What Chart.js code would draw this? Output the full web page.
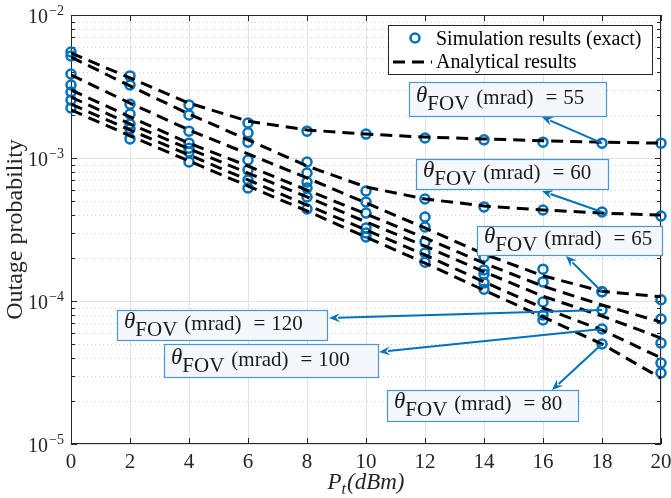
<!DOCTYPE html>
<html>
<head>
<meta charset="utf-8">
<script src="https://cdn.jsdelivr.net/npm/chart.js@4.4.1/dist/chart.umd.min.js"></script>
<style>
  html, body { margin:0; padding:0; background:#fff; }
  canvas { display:block; }
</style>
</head>
<body>
<canvas id="chart" width="671" height="498"></canvas>
<script>
// transmit power P_t (dBm)
const pt = [0, 2, 4, 6, 8, 10, 12, 14, 16, 18, 20];

// simulation results (circles), per FOV in mrad
const sim55  = [5.51e-3, 3.75e-3, 2.35e-3, 1.76e-3, 1.54e-3, 1.47e-3, 1.38e-3, 1.34e-3, 1.29e-3, 1.27e-3, 1.27e-3];
const sim60  = [5.17e-3, 3.24e-3, 2.00e-3, 1.50e-3, 9.38e-4, 5.88e-4, 5.17e-4, 4.55e-4, 4.33e-4, 4.19e-4, 3.93e-4];
const sim65  = [3.87e-3, 2.38e-3, 1.54e-3, 1.29e-3, 7.85e-4, 4.92e-4, 3.87e-4, 2.03e-4, 1.67e-4, 1.16e-4, 1.02e-4];
const sim70  = [3.24e-3, 2.03e-3, 1.27e-3, 9.68e-4, 6.80e-4, 4.12e-4, 3.29e-4, 1.65e-4, 1.36e-4, 1.16e-4, 7.48e-5];
const sim80  = [2.24e-3, 1.36e-3, 9.38e-4, 6.17e-4, 4.40e-4, 2.80e-4, 1.87e-4, 1.21e-4, 7.36e-5, 5.00e-5, 3.14e-5];
const sim100 = [2.54e-3, 1.60e-3, 1.10e-3, 7.02e-4, 5.34e-4, 2.99e-4, 2.17e-4, 1.34e-4, 7.98e-5, 6.37e-5, 3.68e-5];
const sim120 = [2.89e-3, 1.73e-3, 1.17e-3, 8.24e-4, 6.17e-4, 3.24e-4, 2.59e-4, 1.54e-4, 9.84e-5, 8.65e-5, 5.08e-5];

// analytical results (dashed)
const ana55  = [5.42e-3, 3.63e-3, 2.42e-3, 1.81e-3, 1.57e-3, 1.47e-3, 1.40e-3, 1.36e-3, 1.32e-3, 1.29e-3, 1.27e-3];
const ana60  = [5.08e-3, 3.19e-3, 2.03e-3, 1.34e-3, 8.79e-4, 6.27e-4, 5.17e-4, 4.62e-4, 4.33e-4, 4.12e-4, 3.99e-4];
const ana65  = [3.81e-3, 2.42e-3, 1.57e-3, 1.07e-3, 7.25e-4, 4.85e-4, 3.24e-4, 2.13e-4, 1.50e-4, 1.17e-4, 1.07e-4];
const ana70  = [2.99e-3, 1.94e-3, 1.27e-3, 8.79e-4, 5.97e-4, 4.06e-4, 2.76e-4, 1.84e-4, 1.27e-4, 9.38e-5, 7.13e-5];
const ana80  = [2.17e-3, 1.43e-3, 9.53e-4, 6.37e-4, 4.26e-4, 2.80e-4, 1.84e-4, 1.19e-4, 7.73e-5, 5.00e-5, 2.89e-5];
const ana100 = [2.38e-3, 1.57e-3, 1.05e-3, 7.02e-4, 4.69e-4, 3.14e-4, 2.10e-4, 1.36e-4, 8.94e-5, 6.27e-5, 4.00e-5];
const ana120 = [2.67e-3, 1.73e-3, 1.16e-3, 7.85e-4, 5.34e-4, 3.57e-4, 2.42e-4, 1.60e-4, 1.08e-4, 7.85e-5, 5.51e-5];

const fovs = [55, 60, 65, 70, 80, 100, 120];
const simByFov = {55: sim55, 60: sim60, 65: sim65, 70: sim70, 80: sim80, 100: sim100, 120: sim120};
const anaByFov = {55: ana55, 60: ana60, 65: ana65, 70: ana70, 80: ana80, 100: ana100, 120: ana120};

const xTicks = [0, 2, 4, 6, 8, 10, 12, 14, 16, 18, 20];
const yTicks = [1e-5, 1e-4, 1e-3, 1e-2];
const yExp   = ['\u22125', '\u22124', '\u22123', '\u22122'];

// annotation boxes (pixels) and where their arrows end
const notes = [
  { fov: 55,  box: [409, 82, 197, 34],  head: [542, 117] },
  { fov: 60,  box: [416, 159, 192, 30], head: [542, 191] },
  { fov: 65,  box: [477, 226, 185, 29], head: [566, 256] },
  { fov: 120, box: [117, 310, 210, 30], head: [329, 318] },
  { fov: 100, box: [164, 344, 214, 33], head: [379, 352] },
  { fov: 80,  box: [387, 390, 191, 31], head: [552, 390] }
];

const BLUE = '#0072BD';
const SERIF = '"Liberation Serif", "DejaVu Serif", serif';
const DASH = [12, 7];

const pts = arr => pt.map((x, i) => ({ x, y: arr[i] }));

const datasets = [];
fovs.forEach(f => {
  datasets.push({
    label: 'ana' + f, data: pts(anaByFov[f]), order: 0,
    borderColor: '#000', borderWidth: 3, borderDash: DASH, pointRadius: 0, tension: 0, fill: false
  });
});
fovs.forEach(f => {
  datasets.push({
    label: 'sim' + f, data: pts(simByFov[f]), order: 1, showLine: false, clip: false,
    pointRadius: 4.5, pointBorderWidth: 2.5, pointBorderColor: BLUE, pointBackgroundColor: 'rgba(0,0,0,0)'
  });
});

function seg(ctx, x0, y0, x1, y1) { ctx.beginPath(); ctx.moveTo(x0, y0); ctx.lineTo(x1, y1); ctx.stroke(); }

// draw a row of text pieces: [text, font, dy, gap after]
function rich(ctx, x, y, parts) {
  parts.forEach(([t, font, dy, gap]) => {
    ctx.font = font;
    ctx.fillText(t, x, y + (dy || 0));
    x += ctx.measureText(t).width + (gap || 0);
  });
  return x;
}

const axesPlugin = {
  id: 'matlabAxes',
  beforeDatasetsDraw(chart) {
    const { ctx, chartArea: a, scales: { x, y } } = chart;
    ctx.save();
    ctx.lineWidth = 1;
    // minor y grid, dotted
    ctx.strokeStyle = '#cfcfcf';
    ctx.setLineDash([1, 3]);
    for (let e = -5; e < -2; e++) for (let m = 2; m <= 9; m++) {
      const py = Math.round(y.getPixelForValue(m * Math.pow(10, e))) + 0.5;
      seg(ctx, a.left, py, a.right, py);
    }
    // major grid
    ctx.setLineDash([]);
    ctx.strokeStyle = '#e2e2e2';
    xTicks.forEach(v => { const px = Math.round(x.getPixelForValue(v)) + 0.5; seg(ctx, px, a.top, px, a.bottom); });
    yTicks.forEach(v => { const py = Math.round(y.getPixelForValue(v)) + 0.5; seg(ctx, a.left, py, a.right, py); });

    // box + ticks
    ctx.strokeStyle = '#262626';
    ctx.strokeRect(a.left + 0.5, a.top + 0.5, a.right - a.left - 1, a.bottom - a.top - 1);
    xTicks.forEach(v => {
      const px = Math.round(x.getPixelForValue(v)) + 0.5;
      seg(ctx, px, a.bottom, px, a.bottom - 6);
      seg(ctx, px, a.top, px, a.top + 6);
    });
    for (let e = -5; e <= -2; e++) for (let m = 1; m <= 9; m++) {
      const v = m * Math.pow(10, e);
      if (v > 1.0001e-2) continue;
      const py = Math.round(y.getPixelForValue(v)) + 0.5;
      const len = m === 1 ? 6 : 4;
      seg(ctx, a.left, py, a.left + len, py);
      seg(ctx, a.right, py, a.right - len, py);
    }

    // tick labels
    ctx.fillStyle = '#262626';
    ctx.textBaseline = 'alphabetic';
    ctx.font = '21px ' + SERIF;
    ctx.textAlign = 'center';
    xTicks.forEach(v => ctx.fillText(String(v), x.getPixelForValue(v), a.bottom + 24));
    yTicks.forEach((v, i) => {
      const py = y.getPixelForValue(v);
      ctx.font = '14px ' + SERIF;
      const sw = ctx.measureText(yExp[i]).width;
      const sx = a.left - 7 - sw;
      ctx.textAlign = 'left';
      ctx.fillText(yExp[i], sx, py + 0);
      ctx.font = '20px ' + SERIF;
      ctx.textAlign = 'right';
      ctx.fillText('10', sx - 1, py + 8);
    });

    // axis titles
    ctx.textAlign = 'left';
    const parts = [['P', 'italic 23px ' + SERIF, 0], ['t', 'italic 16px ' + SERIF, 5, 1], ['(dBm)', 'italic 23px ' + SERIF, 0]];
    let w = 0;
    parts.forEach(p => { ctx.font = p[1]; w += ctx.measureText(p[0]).width + (p[3] || 0); });
    rich(ctx, (a.left + a.right) / 2 - w / 2, 489, parts);

    ctx.save();
    ctx.translate(22, (a.top + a.bottom) / 2);
    ctx.rotate(-Math.PI / 2);
    ctx.textAlign = 'center';
    ctx.font = '24px ' + SERIF;
    ctx.fillText('Outage probability', 0, 0);
    ctx.restore();
    ctx.restore();
  }
};

const overlayPlugin = {
  id: 'overlay',
  afterDatasetsDraw(chart) {
    const { ctx, scales: { x, y } } = chart;
    ctx.save();
    ctx.textBaseline = 'alphabetic';
    ctx.textAlign = 'left';

    // legend
    ctx.fillStyle = '#fff';
    ctx.fillRect(388, 25, 264, 49);
    ctx.strokeStyle = '#262626';
    ctx.lineWidth = 1;
    ctx.strokeRect(388.5, 25.5, 264, 49);
    ctx.strokeStyle = BLUE;
    ctx.lineWidth = 2.5;
    ctx.beginPath(); ctx.arc(415, 38, 4.5, 0, Math.PI * 2); ctx.stroke();
    ctx.strokeStyle = '#000';
    ctx.lineWidth = 3;
    ctx.setLineDash(DASH);
    seg(ctx, 393, 62, 432, 62);
    ctx.setLineDash([]);
    ctx.fillStyle = '#000';
    ctx.font = '20px ' + SERIF;
    ctx.fillText('Simulation results (exact)', 436, 45);
    ctx.fillText('Analytical results', 436, 68);

    // annotations
    notes.forEach(n => {
      const [bx, by, bw, bh] = n.box;
      const tx = x.getPixelForValue(18);
      const ty = y.getPixelForValue(simByFov[n.fov][9]);
      const [hx, hy] = n.head;
      // arrow
      ctx.strokeStyle = BLUE;
      ctx.fillStyle = BLUE;
      ctx.lineWidth = 2;
      const ang = Math.atan2(hy - ty, hx - tx);
      const L = 11, W = 4.5;
      const ex = hx - Math.cos(ang) * (L - 2), ey = hy - Math.sin(ang) * (L - 2);
      seg(ctx, tx, ty, ex, ey);
      ctx.beginPath();
      ctx.moveTo(hx, hy);
      ctx.lineTo(hx - Math.cos(ang) * L - Math.sin(ang) * W, hy - Math.sin(ang) * L + Math.cos(ang) * W);
      ctx.lineTo(hx - Math.cos(ang) * (L - 4), hy - Math.sin(ang) * (L - 4));
      ctx.lineTo(hx - Math.cos(ang) * L + Math.sin(ang) * W, hy - Math.sin(ang) * L - Math.cos(ang) * W);
      ctx.closePath();
      ctx.fill();
      // box
      ctx.fillStyle = '#f4f8fc';
      ctx.fillRect(bx, by, bw, bh);
      ctx.strokeStyle = '#4a97d2';
      ctx.lineWidth = 1.2;
      ctx.strokeRect(bx + 0.5, by + 0.5, bw, bh);
      ctx.fillStyle = '#1a1a1a';
      const base = by + bh * 0.66;
      rich(ctx, bx + 7, base, [
        ['\u03b8', 'italic 23px ' + SERIF, -2, 0],
        ['FOV', '21px ' + SERIF, 6, 7],
        ['(mrad)', '21px ' + SERIF, 0, 12],
        ['=', '21px ' + SERIF, 0, 6],
        [String(n.fov), '21px ' + SERIF, 0]
      ]);
    });
    ctx.restore();
  }
};

new Chart(document.getElementById('chart'), {
  type: 'line',
  data: { datasets },
  options: {
    responsive: false,
    animation: false,
    layout: { padding: { left: 71, right: 10, top: 15, bottom: 54 } },
    scales: {
      x: { type: 'linear', min: 0, max: 20, display: false },
      y: { type: 'logarithmic', min: 1e-5, max: 1e-2, display: false }
    },
    plugins: { legend: { display: false }, tooltip: { enabled: false } }
  },
  plugins: [axesPlugin, overlayPlugin]
});
</script>
</body>
</html>
